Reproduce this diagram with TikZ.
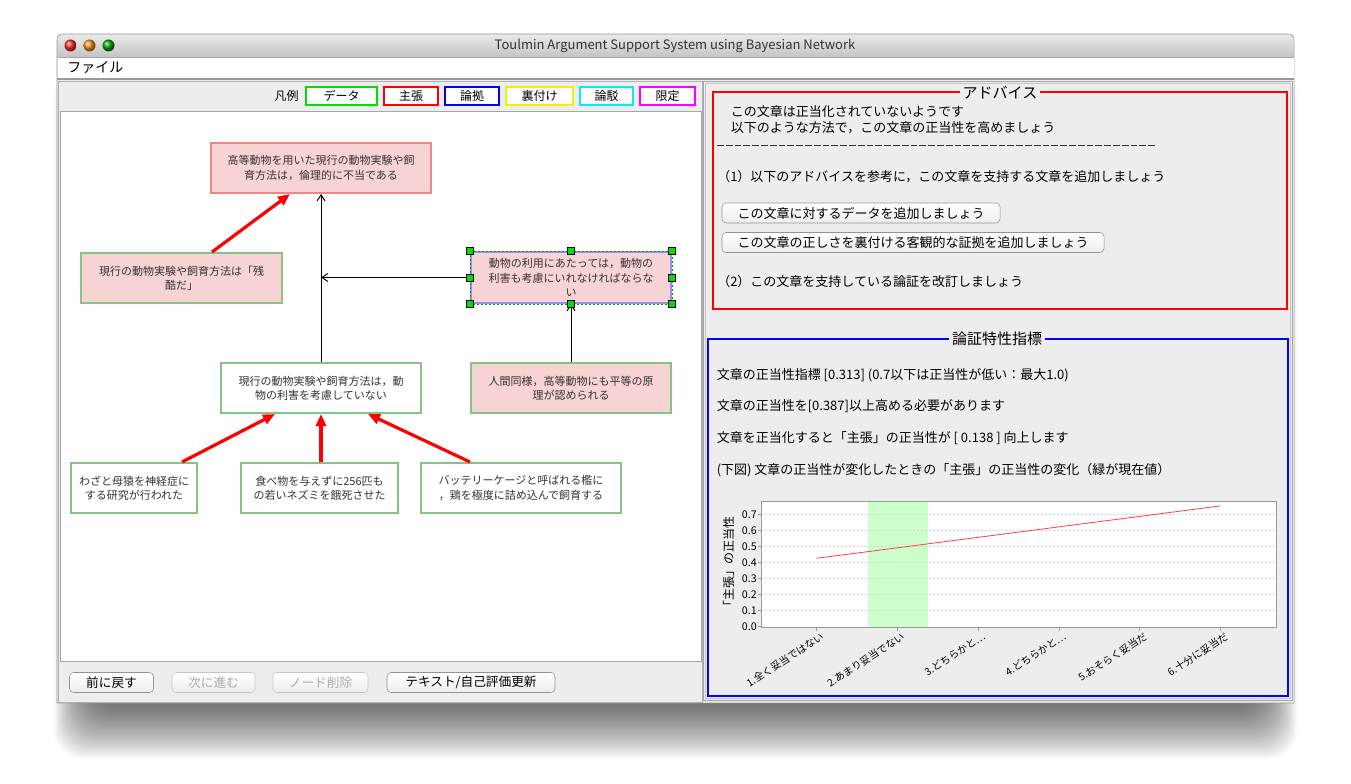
\documentclass[tikz,border=0pt]{standalone}
\usepackage{fontspec}
\setmainfont{Noto Sans CJK JP}
\usetikzlibrary{arrows.meta}
\definecolor{winbody}{HTML}{EDEDED}
\definecolor{titletop}{HTML}{EAEAEA}
\definecolor{titlebot}{HTML}{C4C4C4}
\definecolor{framegray}{HTML}{9A9A9A}
\definecolor{pinkfill}{HTML}{F8D3D3}
\definecolor{claimred}{HTML}{F08585}
\definecolor{datagreen}{HTML}{86C386}
\definecolor{selblue}{HTML}{9A8CF0}
\definecolor{textgray}{HTML}{333333}
\definecolor{legdata}{HTML}{00E000}
\definecolor{legclaim}{HTML}{FF0000}
\definecolor{legwarrant}{HTML}{0000FF}
\definecolor{legbacking}{HTML}{F0F000}
\definecolor{legrebut}{HTML}{00F0F0}
\definecolor{legqual}{HTML}{FF00FF}
\definecolor{nowgreen}{HTML}{CCFFCC}
\newcommand\tasnodefont{\fontsize{8.25}{10.6}\selectfont}
\newcommand\taspanelfont{\fontsize{9.75}{12}\selectfont}
\newcommand\tastitlefont{\fontsize{11.25}{13}\selectfont}
\newcommand\tasaxisfont{\fontsize{7.6}{9}\selectfont}
\tikzset{
  nodebox/.style={draw, line width=1.5pt, minimum height=37.5pt, inner sep=0pt, align=center, font=\tasnodefont, text=textgray},
  claimbox/.style={nodebox, draw=claimred, fill=pinkfill},
  databox/.style={nodebox, draw=datagreen, fill=white},
  pinkdata/.style={nodebox, draw=datagreen, fill=pinkfill},
  selbox/.style={nodebox, draw=selblue, fill=pinkfill},
  support/.style={-{Triangle[length=9pt,width=7.5pt]}, draw=red, line width=2.4pt},
  link/.style={-{Straight Barb[length=4.5pt,width=6pt]}, line width=0.75pt},
  handle/.style={draw=black, fill=legdata, line width=0.4pt, minimum size=5.25pt, inner sep=0pt},
  legendbox/.style={draw, line width=1.5pt, fill=white, minimum height=13.5pt, inner sep=0pt, font=\fontsize{9}{10}\selectfont},
  guibutton/.style={draw=gray!85, rounded corners=3pt, top color=white, bottom color=gray!14, minimum height=15pt, inner sep=0pt, font=\fontsize{9.5}{11}\selectfont},
  offbutton/.style={guibutton, draw=gray!45, text=gray!65},
  paneltext/.style={anchor=west, inner sep=0pt, font=\taspanelfont},
  grouptitle/.style={fill=winbody, inner xsep=2pt, inner ysep=0pt, font=\tastitlefont},
}
\begin{document}
\begin{tikzpicture}[x=0.75pt,y=-0.75pt]
\useasboundingbox[fill=white] (0,0) rectangle (1351,784);
%shadow
\foreach \s in {0,...,24}
  \fill[black,opacity=0.028,rounded corners=22pt] ({90-1.5*\s},{80-0.5*\s}) rectangle ({1261+1.5*\s},{706+2.2*\s});
%window
\fill[winbody] (57,34) rectangle (1294,703);
\shade[top color=titletop,bottom color=titlebot] (57,57) [rounded corners=4.5pt] -- (57,34) -- (1294,34) [sharp corners] -- (1294,57) -- cycle;
\draw[framegray] (57,57) [rounded corners=4.5pt] -- (57,34) -- (1294,34) [sharp corners] -- (1294,703) -- (57,703) -- cycle;
\shade[ball color=red!85] (70.5,45.5) circle (6);
\shade[ball color=orange!90] (89.5,45.5) circle (6);
\shade[ball color=green!65!black] (108.5,45.5) circle (6);
\node[font=\fontsize{9.75}{11}\selectfont, text=black!80] (wintitle) at (675,46) {Toulmin Argument Support System using Bayesian Network};
\fill[white] (57.5,57) rectangle (1293.5,78);
\draw[gray!70] (57,57) -- (1294,57);
\draw[gray!80,line width=1pt] (57,79) -- (1294,79);
\node[anchor=west, inner sep=0pt, font=\fontsize{10.5}{12}\selectfont] (menufile) at (67,68) {ファイル};
%left panel
\draw[gray!60] (58,81) rectangle (702,702);
\node[anchor=east, inner sep=0pt, font=\fontsize{9}{10}\selectfont] (legtitle) at (299,96) {凡例};
\foreach \lx/\lw/\lc/\lt in {341.5/53.25/legdata/データ, 411/40.5/legclaim/主張, 472/40.5/legwarrant/論拠, 539.5/50.25/legbacking/裏付け, 606.5/39.75/legrebut/論駁, 667.5/41.25/legqual/限定}
  \node[legendbox, draw=\lc, minimum width=\lw pt] (leg-\lc) at (\lx,96) {\lt};
\draw[gray!70, fill=white] (60,111) rectangle (701,661);
%argument graph
\node[claimbox, minimum width=165pt] (claim) at (321,168) {高等動物を用いた現行の動物実験や飼\\育方法は，倫理的に不当である};
\node[pinkdata, minimum width=150.75pt] (cruel) at (181.5,278) {現行の動物実験や飼育方法は「残\\酷だ」};
\node[selbox, minimum width=150pt, minimum height=38.25pt] (warrant) at (571,277.5) {動物の利用にあたっては，動物の\\利害も考慮にいれなければならな\\い};
\node[databox, minimum width=150pt] (ground) at (321,388) {現行の動物実験や飼育方法は，動\\物の利害を考慮していない};
\node[pinkdata, minimum width=150pt] (backing) at (571,388) {人間同様，高等動物にも平等の原\\理が認められる};
\node[databox, minimum width=94.5pt] (monkey) at (134,488) {わざと母猿を神経症に\\する研究が行われた};
\node[databox, minimum width=117.75pt] (rats) at (319.5,488) {食べ物を与えずに256匹も\\の若いネズミを餓死させた};
\node[databox, minimum width=150pt] (cage) at (521,488) {バッテリーケージと呼ばれる檻に\\，鶏を極度に詰め込んで飼育する};
%
\draw[link] (ground.north) -- (claim.south);
\coordinate (junction) at (ground.north |- warrant.west);
\draw[link] (warrant.west) -- (junction);
\draw[link] (backing.north) -- (warrant.south);
\draw[support] ([xshift=22.9pt]cruel.north) -- ([xshift=-23.25pt]claim.south);
\draw[support] ([xshift=36pt]monkey.north) -- ([xshift=-34.5pt]ground.south);
\draw[support] (rats.north -| ground.south) -- (ground.south);
\draw[support] ([xshift=-38.25pt]cage.north) -- ([xshift=35.25pt]ground.south);
%selection
\draw[legdata!70!black, dash pattern=on 1.5pt off 1.5pt, line width=0.4pt] (warrant.north west) rectangle (warrant.south east);
\foreach \a/\n in {north west/1,north/2,north east/3,east/4,south east/5,south/6,south west/7,west/8}
  \node[handle] (handle\n) at (warrant.\a) {};
%buttons
\node[guibutton, minimum width=63pt] (back) at (111.5,682.5) {前に戻す};
\node[offbutton, minimum width=62.25pt] (forward) at (213.5,682.5) {次に進む};
\node[offbutton, minimum width=71.25pt] (delete) at (320.5,682.5) {ノード削除};
\node[guibutton, minimum width=126pt] (update) at (471,682.5) {テキスト/自己評価更新};
%right panel
\draw[gray!70] (703,81) rectangle (1292,700);
\draw[gray!45] (705,83) rectangle (1290,698);
\draw[red, line width=1.5pt] (712.5,92.3) rectangle (1287,309.3);
\node[grouptitle] (advtitle) at (1000,92.3) {アドバイス};
\node[paneltext] (adv1) at (730.5,112) {この文章は正当化されていないようです};
\node[paneltext] (adv2) at (730.5,128) {以下のような方法で，この文章の正当性を高めましょう};
\draw[textgray, line width=0.75pt, dash pattern=on 5.1pt off 1.5pt] (717,145.5) -- (1155,145.5);
\node[paneltext] (adv3) at (717,176.5) {（1）以下のアドバイスを参考に，この文章を支持する文章を追加しましょう};
\node[guibutton, minimum width=208.5pt, font=\taspanelfont] (adddata) at (861,213) {この文章に対するデータを追加しましょう};
\node[guibutton, minimum width=286.5pt, font=\taspanelfont] (addback) at (913,242.5) {この文章の正しさを裏付ける客観的な証拠を追加しましょう};
\node[paneltext] (adv4) at (717,281.5) {（2）この文章を支持している論証を改訂しましょう};
%index
\draw[blue, line width=1.5pt] (707.5,338.5) rectangle (1287.5,696);
\node[grouptitle] (idxtitle) at (997,339) {論証特性指標};
\node[paneltext] (idx1) at (716.5,375) {文章の正当性指標 [0.313] (0.7以下は正当性が低い：最大1.0)};
\node[paneltext] (idx2) at (716.5,406.5) {文章の正当性を[0.387]以上高める必要があります};
\node[paneltext] (idx3) at (716.5,438.5) {文章を正当化すると「主張」の正当性が [ 0.138 ] 向上します};
\node[paneltext] (idx4) at (716.5,470.5) {(下図) 文章の正当性が変化したときの「主張」の正当性の変化（緑が現在値）};
%chart
\fill[white] (761,501) rectangle (1276,627);
\fill[nowgreen] (867.6,501) rectangle (927.8,627);
\foreach \v in {1,...,7}
  \draw[gray!35, dash pattern=on 1.5pt off 1.5pt, line width=0.4pt] (761,{626.7-16.06*\v}) -- (1276,{626.7-16.06*\v});
\draw[gray!80, line width=0.6pt] (761,501) rectangle (1276,627);
\foreach \v in {0,...,7} {
  \draw[gray!80, line width=0.5pt] (758,{626.7-16.06*\v}) -- (761,{626.7-16.06*\v});
  \node[anchor=east, inner sep=0pt, font=\fontsize{8}{9}\selectfont] (ytick\v) at (757,{626.7-16.06*\v}) {0.\v};
}
\foreach \i/\t in {1/1.全く妥当ではない, 2/2.あまり妥当でない, 3/3.どちらかと…, 4/4.どちらかと…, 5/5.おそらく妥当だ, 6/6.十分に妥当だ} {
  \draw[gray!80, line width=0.5pt] ({816.4+80.84*(\i-1)},627) -- ({816.4+80.84*(\i-1)},631);
  \node[anchor=north east, inner sep=0pt, rotate=33, font=\tasaxisfont] (xtick\i) at ({820+80.84*(\i-1)},631) {\t};
}
\draw[red!75, line width=0.6pt] (816.4,558.3) -- (1220.6,505.9);
\node[rotate=90, inner sep=0pt, font=\fontsize{9}{10}\selectfont] (ylabel) at (728.5,564) {「主張」の正当性};
\end{tikzpicture}
\end{document}
